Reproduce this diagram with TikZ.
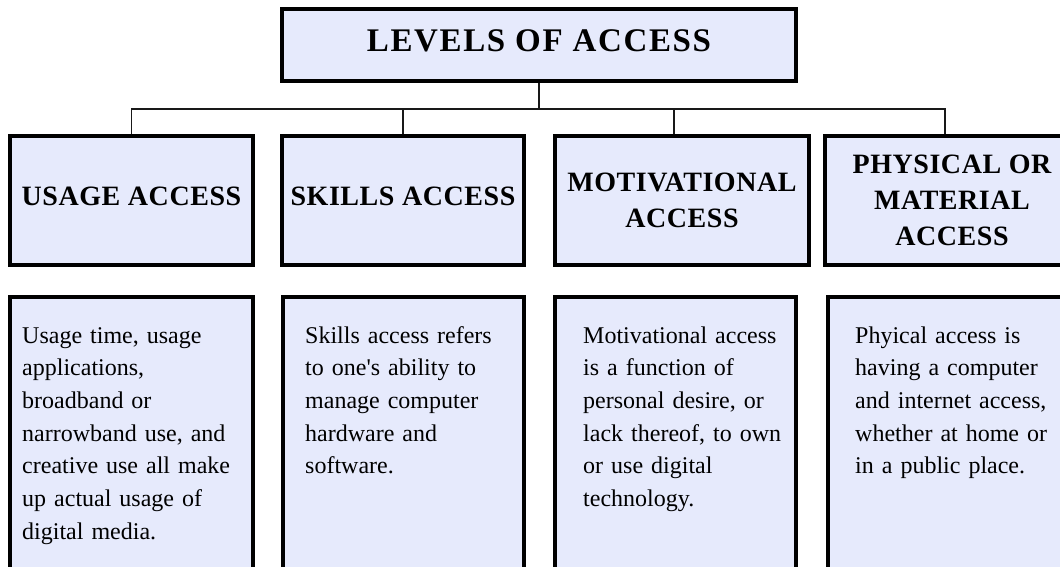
\documentclass[tikz,border=0pt]{standalone}
\usepackage{fontspec}
\setmainfont{Liberation Serif}
% plain family without TeX ligature mapping, so ' stays a straight apostrophe
\newfontfamily\bodyfont{Liberation Serif}
\definecolor{boxfill}{RGB}{230,234,252}
\definecolor{linecol}{RGB}{25,25,25}
\begin{document}
\begin{tikzpicture}[x=1pt,y=-1pt,
  box/.style={draw=black, line width=4pt, fill=boxfill, inner sep=0pt,
    align=center, font=\fontsize{28}{36}\selectfont\bfseries\addfontfeature{LetterSpace=2}},
  title/.style={box, font=\fontsize{33}{40}\selectfont\bfseries\addfontfeature{LetterSpace=5}},
  body/.style={anchor=base west, inner sep=0pt, text width=240pt, align=left,
    font=\bodyfont\fontsize{24}{32.7}\selectfont},
  conn/.style={draw=linecol, line width=1.8pt}]
\useasboundingbox (0,0) rectangle (1060,567);
\clip (0,0) rectangle (1060,567);

% title
\node[title, minimum width=514pt, minimum height=72pt, text depth=9pt]
  (top) at (539,45) {LEVELS OF ACCESS};

% category headers
\node[box, minimum width=243pt, minimum height=129pt, text depth=7.6pt]
  (ua) at (131.5,200.5) {USAGE ACCESS};
\node[box, minimum width=242pt, minimum height=129pt, text depth=7.6pt]
  (sa) at (403,200.5) {SKILLS ACCESS};
\node[box, minimum width=254pt, minimum height=129pt]
  (ma) at (682,200.5) {MOTIVATIONAL\\ACCESS};
\node[box, minimum width=254pt, minimum height=129pt]
  (pm) at (952,200.5) {PHYSICAL OR\\MATERIAL\\ACCESS};

% description panels
\node[box, minimum width=243pt, minimum height=276pt] (uab) at (131.5,435) {};
\node[box, minimum width=241pt, minimum height=276pt] (sab) at (403.5,435) {};
\node[box, minimum width=241pt, minimum height=276pt] (mab) at (675.5,435) {};
\node[box, minimum width=251pt, minimum height=276pt] (pmb) at (953.5,435) {};

\node[body] (uat) at (22,343) {Usage time, usage\\applications,\\broadband or\\narrowband use, and\\creative use all make\\up actual usage of\\digital media.};
\node[body] (sat) at (305,343) {Skills access refers\\to one's ability to\\manage computer\\hardware and\\software.};
\node[body] (mat) at (583,343) {Motivational access\\is a function of\\personal desire, or\\lack thereof, to own\\or use digital\\technology.};
\node[body] (pmt) at (855,343) {Phyical access is\\having a computer\\and internet access,\\whether at home or\\in a public place.};

% tree connectors
\coordinate (bus) at (0,109);
\coordinate (matop) at ([xshift=-8pt]ma.north);
\coordinate (pmtop) at ([xshift=-7pt]pm.north);
\draw[conn] (top.south) -- (top.south |- bus);
\draw[conn] (ua.north) |- (pmtop |- bus) -- (pmtop);
\draw[conn] (sa.north |- bus) -- (sa.north);
\draw[conn] (matop |- bus) -- (matop);
\end{tikzpicture}
\end{document}
